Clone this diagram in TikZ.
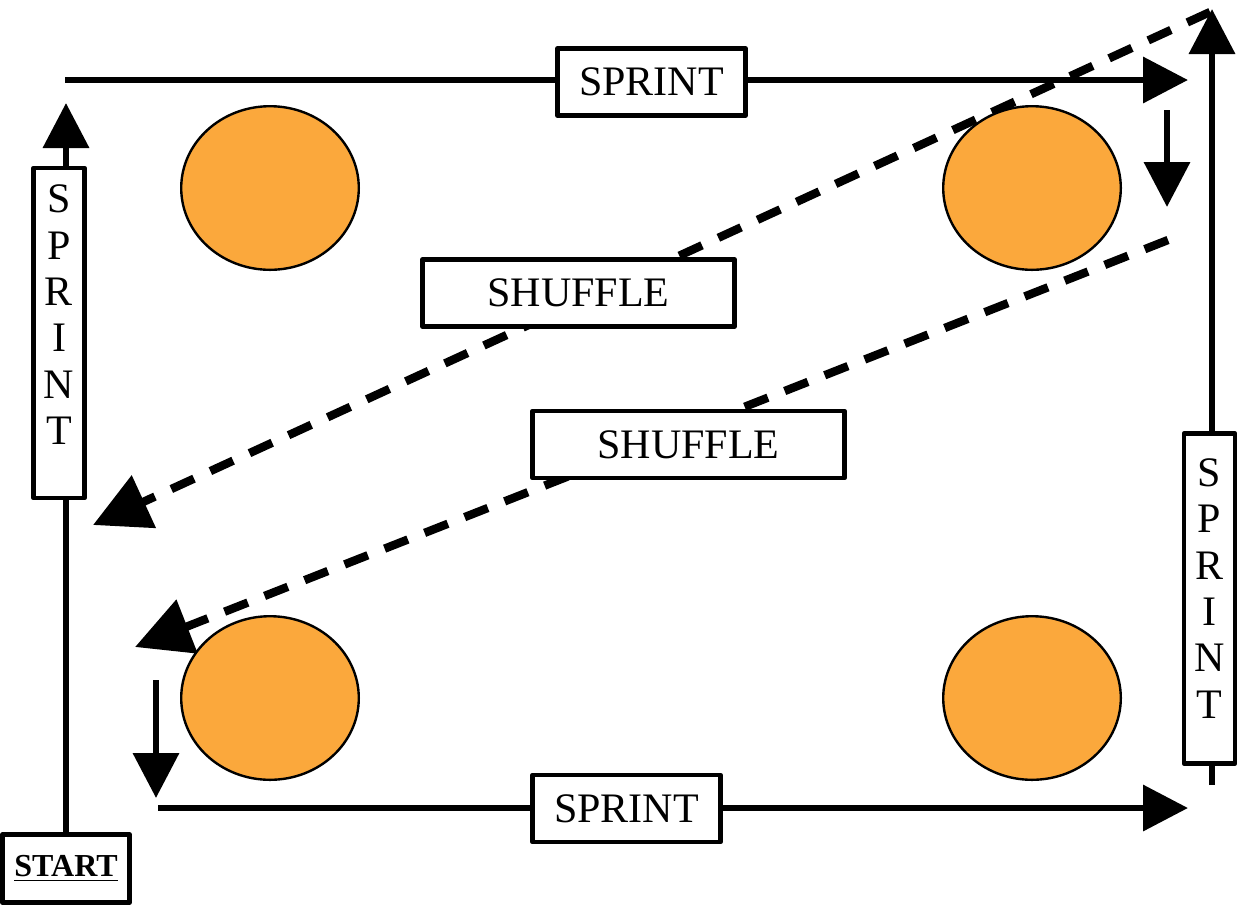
\documentclass[tikz,border=0pt]{standalone}
\usepackage{fontspec}
\setmainfont{Liberation Serif}
\usetikzlibrary{positioning, arrows.meta, shapes.geometric}
\definecolor{conefill}{RGB}{251,168,60}

\begin{document}
\begin{tikzpicture}[x=0.5pt, y=-0.5pt,
  run/.style={line width=3.4pt, -{Triangle[length=22.5pt,width=22.5pt]}},
  shuffle/.style={line width=4.2pt, dash pattern=on 12.5pt off 9pt, -{Triangle[length=28pt,width=28pt]}},
  tagbox/.style={draw, fill=white, line width=2.4pt, line join=round, font=\fontsize{21}{23.2}\selectfont, inner sep=0pt},
  hbox/.style={tagbox, minimum width=94pt, minimum height=33.5pt},
  vbox/.style={tagbox, align=center, minimum width=25.5pt, minimum height=165pt},
  cone/.style={ellipse, draw, fill=conefill, line width=1.2pt, minimum width=88.8pt, minimum height=81.8pt}]
\useasboundingbox (0,0) rectangle (1247,907);

% start
\node[tagbox, minimum width=63.5pt, minimum height=34pt, font=\fontsize{16}{18}\selectfont\bfseries] (start) at (66,868.5) {\underline{START}};

% ends of the runs
\coordinate (leftEnd) at (66,103);
\coordinate (topStart) at (65,80);
\coordinate (topEnd) at (1188,80);
\coordinate (turnStart) at (1167,110);
\coordinate (turnEnd) at (1167,207);
\coordinate (rightStart) at (1212,785);
\coordinate (rightEnd) at (1212,9);
\coordinate (dropStart) at (156,680);
\coordinate (dropEnd) at (156,798);
\coordinate (bottomStart) at (158,808);
\coordinate (bottomEnd) at (1188,808);
\coordinate (shuffleOneStart) at (1210,12);
\coordinate (shuffleOneEnd) at (93,525);
\coordinate (shuffleTwoStart) at (1168,240);
\coordinate (shuffleTwoEnd) at (135,647);

\draw[run] (start.north) -- (leftEnd);
\draw[run] (topStart) -- (topEnd);
\draw[run] (turnStart) -- (turnEnd);
\draw[run] (rightStart) -- (rightEnd);
\draw[run] (dropStart) -- (dropEnd);
\draw[run] (bottomStart) -- (bottomEnd);
\draw[shuffle] (shuffleOneStart) -- (shuffleOneEnd);
\draw[shuffle] (shuffleTwoStart) -- (shuffleTwoEnd);

% labels
\node[vbox] (sprintLeft) at (59,333) {S\\P\\R\\I\\N\\T\\[-5pt]};
\node[hbox] (sprintTop) at (651.5,82) {SPRINT};
\node[vbox] (sprintRight) at (1209.5,598.5) {S\\P\\R\\I\\N\\T\\[-13pt]};
\node[hbox] (sprintBottom) at (626.5,808.5) {SPRINT};
\node[hbox, minimum width=156pt] (shuffleOne) at (578.5,293) {SHUFFLE};
\node[hbox, minimum width=156pt] (shuffleTwo) at (688.5,444.5) {SHUFFLE};

% cones
\node[cone] (coneTL) at (270,188) {};
\node[cone] (coneTR) at (1032,188) {};
\node[cone] (coneBL) at (270,698) {};
\node[cone] (coneBR) at (1032,698) {};
\end{tikzpicture}
\end{document}
